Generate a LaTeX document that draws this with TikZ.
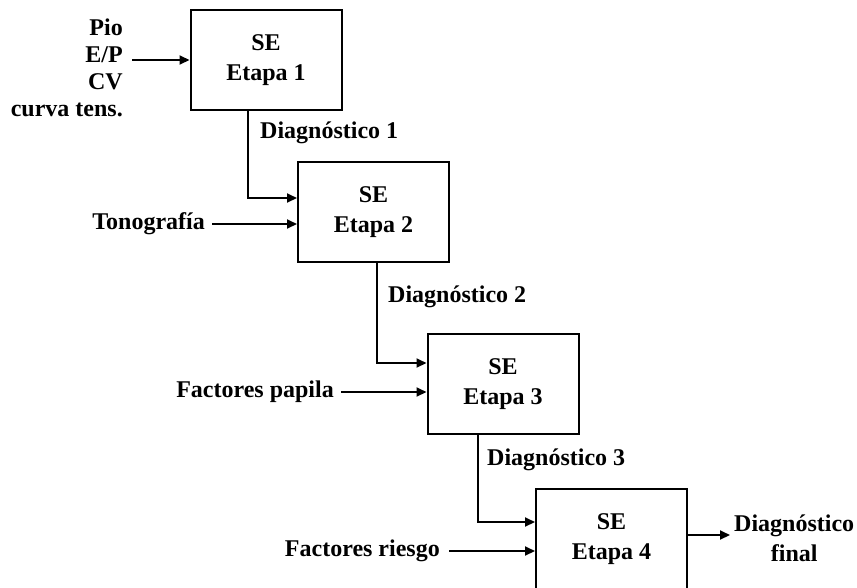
\documentclass[tikz,border=0pt]{standalone}
\usepackage{fontspec}
\setmainfont{Liberation Serif}
\usetikzlibrary{arrows.meta}
\begin{document}
\begin{tikzpicture}[x=1pt,y=-1pt,
  every node/.style={font=\bfseries\fontsize{24}{30}\selectfont, inner sep=0pt},
  stage/.style={draw, line width=2pt, minimum width=151pt, minimum height=100pt, align=center},
  lbl/.style={align=center},
  arr/.style={line width=2pt, -{Triangle[length=10pt,width=9pt]}},
  link/.style={line width=2pt, -{Triangle[length=10pt,width=9pt]}}]
\useasboundingbox (0,0) rectangle (857,587);

% stages of the expert system
\node[stage] (b1) at (266,60)    {SE\\Etapa 1};
\node[stage] (b2) at (373.5,212) {SE\\Etapa 2};
\node[stage] (b3) at (503,384)   {SE\\Etapa 3};
\node[stage] (b4) at (611.5,539) {SE\\Etapa 4};

% external inputs
\node[align=right, anchor=east, font=\bfseries\fontsize{24}{27}\selectfont] (in1) at (123,67.5) {Pio\\E/P\\CV\\curva tens.};
\node[anchor=east] (in2) at (205,224) {Tonografía};
\node[anchor=east] (in3) at (334,392) {Factores papila};
\node[anchor=east] (in4) at (440,551) {Factores riesgo};

% intermediate diagnoses
\node[anchor=west] (d1) at (260,133) {Diagnóstico 1};
\node[anchor=west] (d2) at (388,297) {Diagnóstico 2};
\node[anchor=west] (d3) at (487,460) {Diagnóstico 3};

% final output
\node[lbl, anchor=west] (out) at (734,538) {Diagnóstico\\final};

% input arrows
\draw[arr] ([xshift=9pt]in1.east |- b1.west) -- (b1.west);
\draw[arr] ([xshift=7pt]in2.east) -- (in2.east -| b2.west);
\draw[arr] ([xshift=7pt]in3.east) -- (in3.east -| b3.west);
\draw[arr] ([xshift=9pt]in4.east) -- (in4.east -| b4.west);

% diagnosis links between stages
\draw[link] ([xshift=-18pt]b1.south) |- ([yshift=14pt]b2.west);
\draw[link] ([xshift=3.5pt]b2.south) |- ([yshift=21pt]b3.west);
\draw[link] ([xshift=-25pt]b3.south) |- ([yshift=17pt]b4.west);

% output arrow
\coordinate (oend) at ([xshift=-4pt]out.west |- 0,535);
\draw[arr] ([yshift=4pt]b4.east) -- (oend);
\end{tikzpicture}
\end{document}
